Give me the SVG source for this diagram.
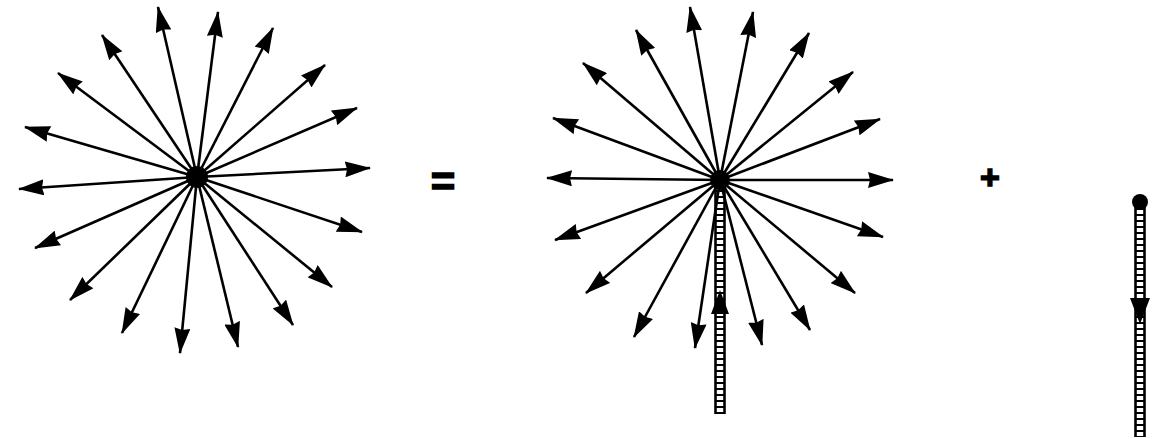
<svg xmlns="http://www.w3.org/2000/svg" width="1170" height="439" viewBox="0 0 1170 439">
<style>
.ray{stroke:#000;stroke-width:2.6;fill:none;marker-end:url(#ah)}
.rail{stroke:#000;stroke-width:2.6;fill:none}
.rung{stroke:#000;stroke-width:10;stroke-dasharray:2 4;fill:none}
.op{font-family:"Liberation Sans",Arial,sans-serif;font-weight:bold;fill:#000;stroke:#000;stroke-width:1.5;text-anchor:middle}
</style>
<defs>
<marker id="ah" markerUnits="userSpaceOnUse" viewBox="0 0 26 16" markerWidth="26" markerHeight="16" refX="25" refY="8" orient="auto">
<path d="M0,0 L26,8 L0,16 L2,8 z" fill="#000"/>
</marker>
</defs>
<rect width="1170" height="439" fill="#fff"/>

<g id="left-star">
<g id="left-rays">
<line class="ray" x1="197" y1="177" x2="158" y2="7"/>
<line class="ray" x1="197" y1="177" x2="218" y2="12"/>
<line class="ray" x1="197" y1="177" x2="273" y2="28"/>
<line class="ray" x1="197" y1="177" x2="325" y2="65"/>
<line class="ray" x1="197" y1="177" x2="357" y2="108"/>
<line class="ray" x1="197" y1="177" x2="370" y2="168"/>
<line class="ray" x1="197" y1="177" x2="362" y2="232"/>
<line class="ray" x1="197" y1="177" x2="332" y2="287"/>
<line class="ray" x1="197" y1="177" x2="293" y2="325"/>
<line class="ray" x1="197" y1="177" x2="238" y2="347"/>
<line class="ray" x1="197" y1="177" x2="180" y2="353"/>
<line class="ray" x1="197" y1="177" x2="122" y2="333"/>
<line class="ray" x1="197" y1="177" x2="70" y2="300"/>
<line class="ray" x1="197" y1="177" x2="35" y2="248"/>
<line class="ray" x1="197" y1="177" x2="19" y2="189"/>
<line class="ray" x1="197" y1="177" x2="25" y2="127"/>
<line class="ray" x1="197" y1="177" x2="58" y2="73"/>
<line class="ray" x1="197" y1="177" x2="102" y2="35"/>
</g>
<circle cx="197" cy="177" r="11" fill="#000"/>
</g>

<g id="equals">
<text class="op" x="443" y="196" font-size="42">=</text>
</g>

<g id="middle-star">
<g id="middle-rays">
<line class="ray" x1="720" y1="180" x2="690" y2="7"/>
<line class="ray" x1="720" y1="180" x2="753" y2="12"/>
<line class="ray" x1="720" y1="180" x2="809" y2="33"/>
<line class="ray" x1="720" y1="180" x2="853" y2="72"/>
<line class="ray" x1="720" y1="180" x2="880" y2="119"/>
<line class="ray" x1="720" y1="180" x2="893" y2="180"/>
<line class="ray" x1="720" y1="180" x2="883" y2="237"/>
<line class="ray" x1="720" y1="180" x2="855" y2="293"/>
<line class="ray" x1="720" y1="180" x2="810" y2="330"/>
<line class="ray" x1="720" y1="180" x2="762" y2="345"/>
<line class="ray" x1="720" y1="180" x2="695" y2="348"/>
<line class="ray" x1="720" y1="180" x2="634" y2="337"/>
<line class="ray" x1="720" y1="180" x2="586" y2="293"/>
<line class="ray" x1="720" y1="180" x2="555" y2="240"/>
<line class="ray" x1="720" y1="180" x2="547" y2="178"/>
<line class="ray" x1="720" y1="180" x2="553" y2="118"/>
<line class="ray" x1="720" y1="180" x2="583" y2="63"/>
<line class="ray" x1="720" y1="180" x2="636" y2="30"/>
</g>
<g id="middle-ladder">
<line class="rail" x1="715.5" y1="188" x2="715.5" y2="414"/>
<line class="rail" x1="724.5" y1="188" x2="724.5" y2="414"/>
<line class="rung" x1="720" y1="190" x2="720" y2="414"/>
<path d="M720,290 L729,314 L711,314 z" fill="#000"/>
</g>
<circle cx="720" cy="180" r="10" fill="#000"/>
</g>

<g id="plus">
<text class="op" x="990" y="189" font-size="34">+</text>
</g>

<g id="right-vector">
<line class="rail" x1="1135.5" y1="204" x2="1135.5" y2="437"/>
<line class="rail" x1="1144.5" y1="204" x2="1144.5" y2="437"/>
<line class="rung" x1="1140" y1="208" x2="1140" y2="437"/>
<path d="M1130,298 L1150,298 L1140,324 z" fill="#000"/>
<circle cx="1140" cy="202" r="8" fill="#000"/>
</g>
</svg>
